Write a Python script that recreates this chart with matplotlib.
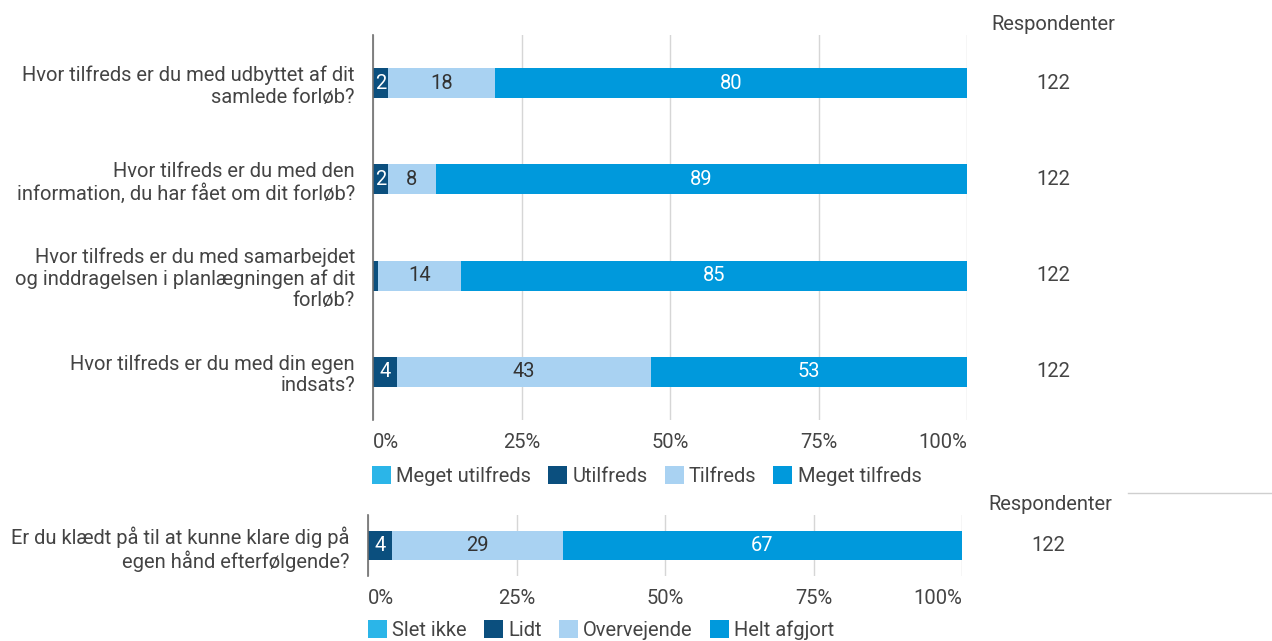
import numpy as np
import matplotlib
matplotlib.use("Agg")
import matplotlib.pyplot as plt
from matplotlib.patches import Patch
from matplotlib.lines import Line2D

plt.rcParams['font.family'] = ['Roboto', 'DejaVu Sans']

W, H = 1272, 641
TXT = "#444444"
FS = 14.5

# top block: counts per answer, 122 respondents each
questions = ["Hvor tilfreds er du med udbyttet af dit\nsamlede forløb?",
             "Hvor tilfreds er du med den\ninformation, du har fået om dit forløb?",
             "Hvor tilfreds er du med samarbejdet\nog inddragelsen i planlægningen af dit\nforløb?",
             "Hvor tilfreds er du med din egen\nindsats?"]
cats_top = ["Meget utilfreds", "Utilfreds", "Tilfreds", "Meget tilfreds"]
meget_utilfreds = [0, 0, 0, 0]
utilfreds = [3, 3, 1, 5]
tilfreds = [22, 10, 17, 52]
meget_tilfreds = [97, 109, 104, 65]
resp_top = [122, 122, 122, 122]

# bottom block
question_b = ["Er du klædt på til at kunne klare dig på\negen hånd efterfølgende?"]
cats_bot = ["Slet ikke", "Lidt", "Overvejende", "Helt afgjort"]
slet_ikke = [0]
lidt = [5]
overvejende = [35]
helt_afgjort = [82]
resp_bot = [122]

colors = ["#2bb5e8", "#0b4f7e", "#a9d2f2", "#0099dc"]
txt_cols = ["white", "white", "#333333", "white"]
ticks = [0, 25, 50, 75, 100]


def px(x0, y0, x1, y1):
    return [x0 / W, 1 - y1 / H, (x1 - x0) / W, (y1 - y0) / H]


def draw(ax, labels, series, resp, ylim):
    series = np.array(series, float)
    pct = series / series.sum(axis=0) * 100
    y = np.arange(len(labels))
    left = np.zeros(len(labels))
    for k in range(pct.shape[0]):
        ax.barh(y, pct[k], 0.31, left=left, color=colors[k], zorder=3)
        for i, v in enumerate(pct[k]):
            if v >= 2:
                ax.text(left[i] + v / 2, y[i], f"{v:.0f}", ha="center", va="center",
                        color=txt_cols[k], fontsize=FS, zorder=4)
        left += pct[k]
    ax.set_xlim(0, 100)
    ax.set_ylim(*ylim)
    ax.set_yticks(y)
    ax.set_yticklabels(labels, fontsize=FS, color=TXT, ha="right", linespacing=1.15)
    ax.tick_params(axis="y", length=0, pad=13)
    ax.set_xticks(ticks)
    ax.set_xticklabels([f"{t}%" for t in ticks], fontsize=FS, color=TXT)
    for lab, t in zip(ax.get_xticklabels(), ticks):
        lab.set_ha("left" if t == 0 else ("right" if t == 100 else "center"))
    ax.tick_params(axis="x", length=0, pad=9)
    ax.grid(axis="x", color="#d6d6d6", lw=1, zorder=0)
    for s in ["top", "right", "bottom"]:
        ax.spines[s].set_visible(False)
    ax.spines["left"].set_color("#6e6e6e")
    ax.spines["left"].set_linewidth(1.2)
    ax.spines["left"].set_zorder(5)
    for i, r in enumerate(resp):
        ax.text(1.145, y[i], str(r), transform=ax.get_yaxis_transform(),
                ha="center", va="center", fontsize=FS, color=TXT)


fig = plt.figure(figsize=(W / 100, H / 100), dpi=100)

ax1 = fig.add_axes(px(373, 35, 967, 420))
draw(ax1, questions, [meget_utilfreds, utilfreds, tilfreds, meget_tilfreds],
     resp_top, (3.5, -0.5))
fig.text(1053 / W, 1 - 25 / H, "Respondenter", ha="center", va="center",
         fontsize=FS, color=TXT)

ax2 = fig.add_axes(px(368, 515, 962, 576))
draw(ax2, question_b, [slet_ikke, lidt, overvejende, helt_afgjort],
     resp_bot, (0.32, -0.32))
fig.text(1050 / W, 1 - 504 / H, "Respondenter", ha="center", va="center",
         fontsize=FS, color=TXT)

for cats, yy, xx in [(cats_top, 476, 372), (cats_bot, 630, 368)]:
    handles = [Patch(facecolor=c, edgecolor="none", label=n) for c, n in zip(colors, cats)]
    fig.legend(handles=handles, loc="center left", bbox_to_anchor=(xx / W, 1 - yy / H),
               ncol=4, frameon=False, fontsize=FS, handlelength=0.95, handleheight=0.95,
               handletextpad=0.25, columnspacing=0.85, borderaxespad=0, borderpad=0,
               labelcolor=TXT)

fig.add_artist(Line2D([1128 / W, 1], [1 - 493 / H] * 2, color="#cfcfcf", lw=1))

fig.savefig("out.png", dpi=100)
